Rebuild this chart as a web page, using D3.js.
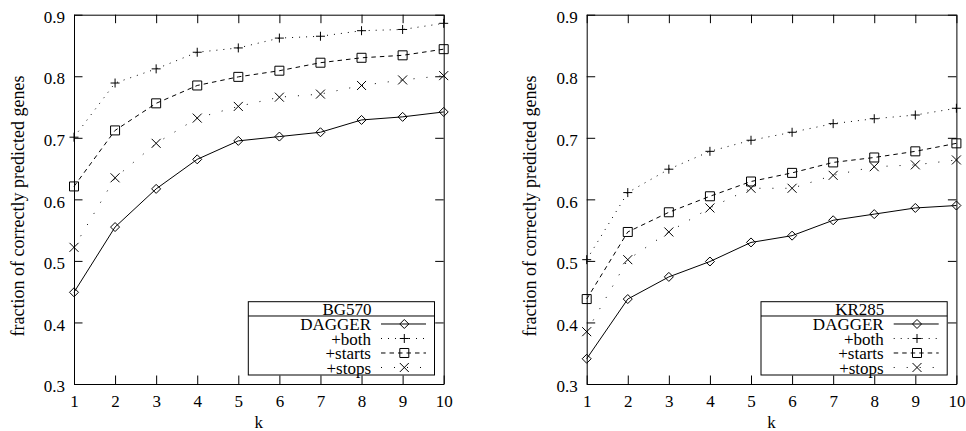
<!DOCTYPE html>
<html><head><meta charset="utf-8">
<script src="https://cdn.jsdelivr.net/npm/d3@7/dist/d3.min.js"></script>
<style>body{margin:0;background:#fff}svg{display:block}</style>
</head><body>
<svg id="chart" width="966" height="431"></svg>
<script>
// ---- data ----
const ks = [1, 2, 3, 4, 5, 6, 7, 8, 9, 10];
const xTicks = [1, 2, 3, 4, 5, 6, 7, 8, 9, 10];
const yTicks = [0.3, 0.4, 0.5, 0.6, 0.7, 0.8, 0.9];
const seriesNames = ["DAGGER", "+both", "+starts", "+stops"];
const panelTitles = ["BG570", "KR285"];

const bgDagger = [0.449, 0.555, 0.617, 0.665, 0.695, 0.702, 0.709, 0.729, 0.734, 0.742];
const bgBoth   = [0.701, 0.789, 0.812, 0.839, 0.846, 0.862, 0.865, 0.874, 0.876, 0.886];
const bgStarts = [0.621, 0.712, 0.756, 0.785, 0.799, 0.809, 0.822, 0.830, 0.834, 0.844];
const bgStops  = [0.522, 0.635, 0.691, 0.732, 0.751, 0.766, 0.771, 0.785, 0.794, 0.801];

const krDagger = [0.341, 0.438, 0.474, 0.499, 0.530, 0.541, 0.566, 0.576, 0.586, 0.590];
const krBoth   = [0.502, 0.611, 0.649, 0.678, 0.696, 0.709, 0.723, 0.731, 0.737, 0.748];
const krStarts = [0.438, 0.547, 0.579, 0.605, 0.629, 0.643, 0.660, 0.668, 0.678, 0.691];
const krStops  = [0.385, 0.502, 0.547, 0.586, 0.618, 0.618, 0.639, 0.653, 0.656, 0.664];

const panelSeries = [
  [bgDagger, bgBoth, bgStarts, bgStops],
  [krDagger, krBoth, krStarts, krStops]
];

// ---- styling ----
const FONT = "'Liberation Serif','Times New Roman',serif";
const FS = 17;
const W = 369.7, H = 369.3;
const panelX = [74, 586.7], panelY = 14.7;
const dashes = [null, "1,6", "4.5,4", "1,12"];
const markerTypes = ["diamond", "plus", "square", "cross"];
const MS = 4.5;

function markerPath(type, cx, cy) {
  const s = MS;
  switch (type) {
    case "diamond": return `M${cx},${cy - s}L${cx + s},${cy}L${cx},${cy + s}L${cx - s},${cy}Z`;
    case "plus": return `M${cx - s},${cy}L${cx + s},${cy}M${cx},${cy - s}L${cx},${cy + s}`;
    case "square": return `M${cx - s},${cy - s}L${cx + s},${cy - s}L${cx + s},${cy + s}L${cx - s},${cy + s}Z`;
    case "cross": return `M${cx - s},${cy - s}L${cx + s},${cy + s}M${cx - s},${cy + s}L${cx + s},${cy - s}`;
  }
}

const svg = d3.select("#chart");

panelSeries.forEach((series, pi) => {
  const g = svg.append("g").attr("transform", `translate(${panelX[pi]},${panelY})`);
  const x = d3.scaleLinear().domain([1, 10]).range([0, W]);
  const y = d3.scaleLinear().domain([0.3, 0.9]).range([H, 0]);

  const axL = g.append("g").call(d3.axisLeft(y).tickValues(yTicks).tickSizeInner(-8.5).tickSizeOuter(0).tickPadding(9).tickFormat(d3.format(".1f")));
  const axB = g.append("g").attr("transform", `translate(0,${H})`).call(d3.axisBottom(x).tickValues(xTicks).tickSizeInner(-8.5).tickSizeOuter(0).tickPadding(11).tickFormat(d3.format("d")));
  const axR = g.append("g").attr("transform", `translate(${W},0)`).call(d3.axisRight(y).tickValues(yTicks).tickSizeInner(-8.5).tickSizeOuter(0).tickFormat(""));
  const axT = g.append("g").call(d3.axisTop(x).tickValues(xTicks).tickSizeInner(-8.5).tickSizeOuter(0).tickFormat(""));
  [axL, axB, axR, axT].forEach(a => {
    a.attr("font-family", FONT).attr("font-size", FS);
    a.selectAll("line,path").attr("stroke", "#000").attr("stroke-width", 1);
    a.selectAll("text").attr("fill", "#000");
  });
  axL.selectAll("text").attr("dy", "0.45em");

  // axis titles
  g.append("text").attr("transform", `translate(${23.5 - panelX[0]},${206 - panelY}) rotate(-90)`)
    .attr("text-anchor", "middle").attr("font-family", FONT).attr("font-size", 18)
    .text("fraction of correctly predicted genes");
  g.append("text").attr("x", W / 2).attr("y", 428 - panelY)
    .attr("text-anchor", "middle").attr("font-family", FONT).attr("font-size", FS)
    .text("k");

  // series
  const line = d3.line().x((d, i) => x(ks[i])).y(d => y(d));
  series.forEach((vals, si) => {
    g.append("path").attr("d", line(vals)).attr("fill", "none").attr("stroke", "#000")
      .attr("stroke-width", 1).attr("stroke-dasharray", dashes[si]);
    g.append("path").attr("d", vals.map((v, i) => markerPath(markerTypes[si], x(ks[i]), y(v))).join(""))
      .attr("fill", "none").attr("stroke", "#000").attr("stroke-width", 1);
  });

  // legend
  const lg = g.append("g");
  const bx0 = 174.3, bx1 = 360.5, by0 = 287, by1 = 360.3, sep = 301.3;
  lg.append("rect").attr("x", bx0).attr("y", by0).attr("width", bx1 - bx0).attr("height", by1 - by0)
    .attr("fill", "none").attr("stroke", "#000").attr("stroke-width", 1);
  lg.append("line").attr("x1", bx0).attr("x2", bx1).attr("y1", sep).attr("y2", sep).attr("stroke", "#000");
  lg.append("text").attr("x", 273).attr("y", 300.3).attr("text-anchor", "middle")
    .attr("font-family", FONT).attr("font-size", FS).text(panelTitles[pi]);
  seriesNames.forEach((name, si) => {
    const cy = 309.3 + si * 14.5;
    lg.append("text").attr("x", 297).attr("y", cy + 6.5).attr("text-anchor", "end")
      .attr("font-family", FONT).attr("font-size", FS).text(name);
    lg.append("line").attr("x1", 307).attr("x2", 352).attr("y1", cy).attr("y2", cy)
      .attr("stroke", "#000").attr("stroke-dasharray", dashes[si]);
    lg.append("path").attr("d", markerPath(markerTypes[si], 330.3, cy)).attr("fill", "none").attr("stroke", "#000");
  });
});
</script>
</body></html>
